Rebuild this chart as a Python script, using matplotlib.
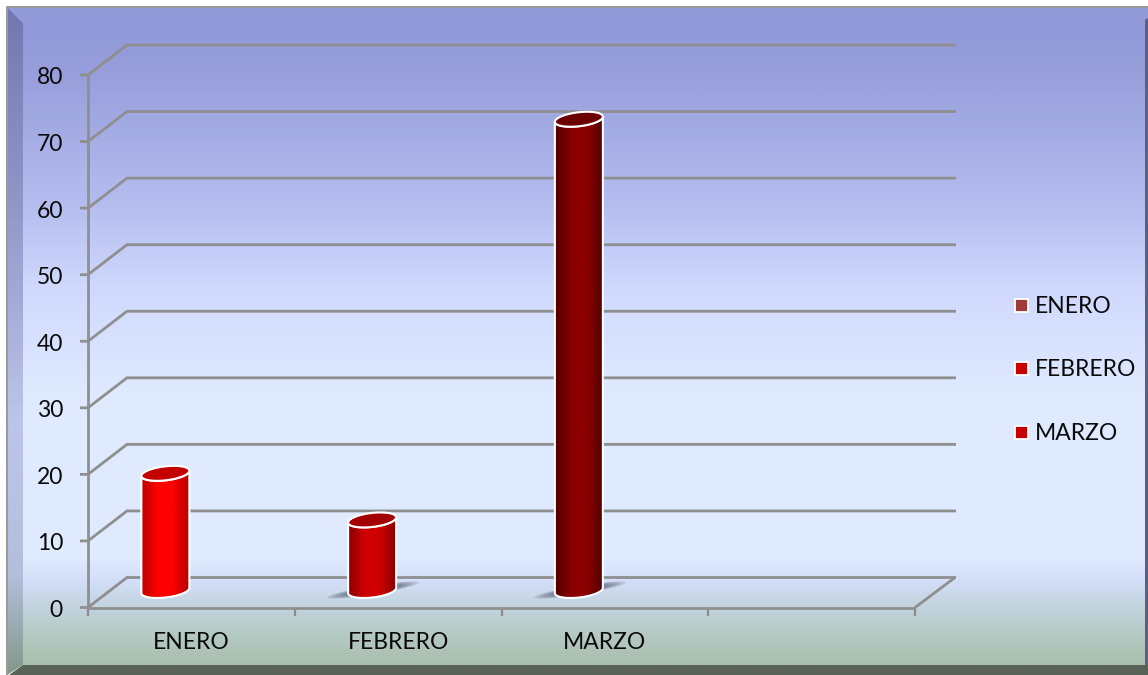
import numpy as np
import matplotlib
matplotlib.use("Agg")
import matplotlib.pyplot as plt
from matplotlib.colors import LinearSegmentedColormap as LSC
from matplotlib.patches import Polygon, Rectangle
from matplotlib.transforms import ScaledTranslation

categories = ["ENERO", "FEBRERO", "MARZO", ""]
values = [17.6, 10.6, 70.8]
legend_labels = ["ENERO", "FEBRERO", "MARZO"]
legend_colors = ["#9e3c3c", "#c80000", "#c80000"]
y_ticks = [0, 10, 20, 30, 40, 50, 60, 70, 80]

# (edge, centre, top-ellipse colours) per bar
bar_edge = ["#b80000", "#8a0000", "#500000"]
bar_mid = ["#ff0000", "#d00000", "#8c0000"]
bar_top = ["#c40000", "#a40000", "#6c0000"]
TEXT = "#0a0a0a"

W, H = 1148, 675
plt.rcParams["font.family"] = ["Lato", "DejaVu Sans"]
fig = plt.figure(figsize=(W / 100, H / 100), dpi=100, facecolor="white")

# pixel-space background layer
bg = fig.add_axes([0, 0, 1, 1])
bg.set_xlim(0, W)
bg.set_ylim(H, 0)
bg.axis("off")

stops = [(0.0, "#9097d8"), (0.10, "#979edb"), (0.30, "#b5bdef"), (0.43, "#d0d9fd"),
         (0.60, "#e0ebff"), (0.84, "#dfeaff"), (0.875, "#d2def7"), (0.93, "#bccfd3"),
         (1.0, "#a9bfac")]
cm_bg = LSC.from_list("bg", stops)
grad = np.linspace(0, 1, 512)[:, None]
bg.imshow(grad, cmap=cm_bg, extent=(7, 1148, 665, 7), aspect="auto", zorder=1)

# bevels
cm_left = LSC.from_list("l", [(0, "#7277b2"), (0.3, "#9297c9"), (0.62, "#bcc5ea"),
                              (0.85, "#b4bfdc"), (1, "#84988a")])
im = bg.imshow(grad, cmap=cm_left, extent=(7, 23, 675, 7), aspect="auto", zorder=2)
im.set_clip_path(Polygon([(7, 7), (23, 23), (23, 665), (7, 675)], transform=bg.transData))
bg.add_patch(Polygon([(7, 7), (1148, 7), (1145, 20), (1129, 23), (23, 23)], fc="#9299d8", ec="none", zorder=2))
bg.add_patch(Polygon([(9, 675), (23, 665), (1148, 665), (1148, 675)], fc="#5a6358", ec="none", zorder=3))
bg.add_patch(Polygon([(1145, 20), (1148, 18), (1148, 675), (1145, 675)], fc="#5b5f82", ec="none", zorder=3))
bg.add_patch(Polygon([(1145, 665), (1148, 665), (1148, 675), (1145, 675)], fc="#5a6358", ec="none", zorder=4))
bg.plot([7, 7, 1148], [675, 7, 7], color="#9a9a9a", lw=1.5, zorder=4)
bg.set_xlim(0, W)
bg.set_ylim(H, 0)

# data axes: the front wall of the 3-D box
L, R, B, T = 88, 915, 607.5, 75
ax = fig.add_axes([L / W, 1 - B / H, (R - L) / W, (B - T) / H])
ax.patch.set_alpha(0)
ax.set_xlim(0, len(categories))
ax.set_ylim(0, y_ticks[-1])
for s in ax.spines.values():
    s.set_visible(False)
ax.set_xticks(range(len(categories) + 1))
ax.set_xticklabels([])
ax.set_yticks(y_ticks)
ax.tick_params(axis="y", length=0, labelsize=16.5, pad=18, labelcolor=TEXT)
ax.tick_params(axis="x", length=6, width=1.6, color="#8c8c8c")
ax.set_xlim(0, len(categories))
for lb in ax.get_yticklabels():
    lb.set_transform(lb.get_transform() + ScaledTranslation(0, -1 / 100, fig.dpi_scale_trans))

ux = len(categories) / (R - L)   # data per pixel
uy = y_ticks[-1] / (B - T)
DX, DY = 39 * ux, 30 * uy
GRID = "#8f8f8f"
LW = 2.0
kw = dict(color=GRID, lw=LW, clip_on=False, solid_capstyle="butt", solid_joinstyle="miter")
n = len(categories)
for v in y_ticks:
    ax.plot([0 - 8 * ux, 0, DX, n + DX + 2 * ux], [v, v, v + DY, v + DY], zorder=1, **kw)
ax.plot([n, n + DX + 1 * ux], [0, DY], zorder=1, **kw)
ax.plot([0, 0, n], [y_ticks[-1], 0, 0], zorder=2, **kw)

for i, c in enumerate(categories):
    ax.text(i + 0.5, -35 * uy, c, ha="center", va="center", fontsize=16.5, color=TEXT, clip_on=False)

# cylinders, all sizes in pixels converted to data units
BW = 48
EH = 7.0
TILT = 2.6
OFF = -26
BASE = 17
t = np.linspace(0, 2 * np.pi, 121)


def ell(cx, cy, a=BW / 2, b=EH, tilt=TILT):
    x = a * np.cos(t)
    y = b * np.sin(t) + tilt * np.cos(t)
    return cx + x * ux, cy + y * uy


for i, v in enumerate(values):
    cx = i + 0.5 + OFF * ux
    y0 = BASE * uy
    y1 = v + BASE * uy
    if i > 0:  # soft floor shadow, built from nested translucent lenses
        for k in np.linspace(1.0, 0.45, 7):
            sx, sy = ell(cx + 1 * ux, y0 + 0.5 * uy, a=46 * k, b=4.5 * k, tilt=7.5 * k)
            ax.add_patch(Polygon(np.c_[sx, sy], fc="#4a5068", ec="none", alpha=0.16, zorder=3, clip_on=False))
    xb, yb = ell(cx, y0)
    xt, yt = ell(cx, y1)
    bx, by = xb[t >= np.pi], yb[t >= np.pi]
    tx, ty = xt[t >= np.pi][::-1], yt[t >= np.pi][::-1]
    body = np.r_[np.c_[bx, by], np.c_[tx, ty]]
    cm = LSC.from_list("c%d" % i, [(0, bar_edge[i]), (0.35, bar_mid[i]), (0.65, bar_mid[i]), (1, bar_edge[i])])
    img = ax.imshow(np.linspace(0, 1, 128)[None, :], cmap=cm, aspect="auto", zorder=4,
                    extent=(cx - BW / 2 * ux, cx + BW / 2 * ux, y0 - 12 * uy, y1 + 12 * uy))
    img.set_clip_path(Polygon(body, closed=True, transform=ax.transData))
    ax.add_patch(Polygon(body, closed=True, fc="none", ec="white", lw=1.5, zorder=5, clip_on=False))
    ax.add_patch(Polygon(np.c_[xt, yt], fc=bar_top[i], ec="white", lw=1.5, zorder=6, clip_on=False))
ax.set_xlim(0, n)
ax.set_ylim(0, y_ticks[-1])

# legend, in figure pixels
for lab, col, y in zip(legend_labels, legend_colors, [305, 368.5, 432]):
    bg.add_patch(Rectangle((1014.5, y - 6.5), 13, 13, fc=col, ec="white", lw=1.3, zorder=6))
    bg.text(1035, y + 1.5, lab, ha="left", va="center", fontsize=16.5, color=TEXT, zorder=6)

fig.savefig("out.png", dpi=100)
